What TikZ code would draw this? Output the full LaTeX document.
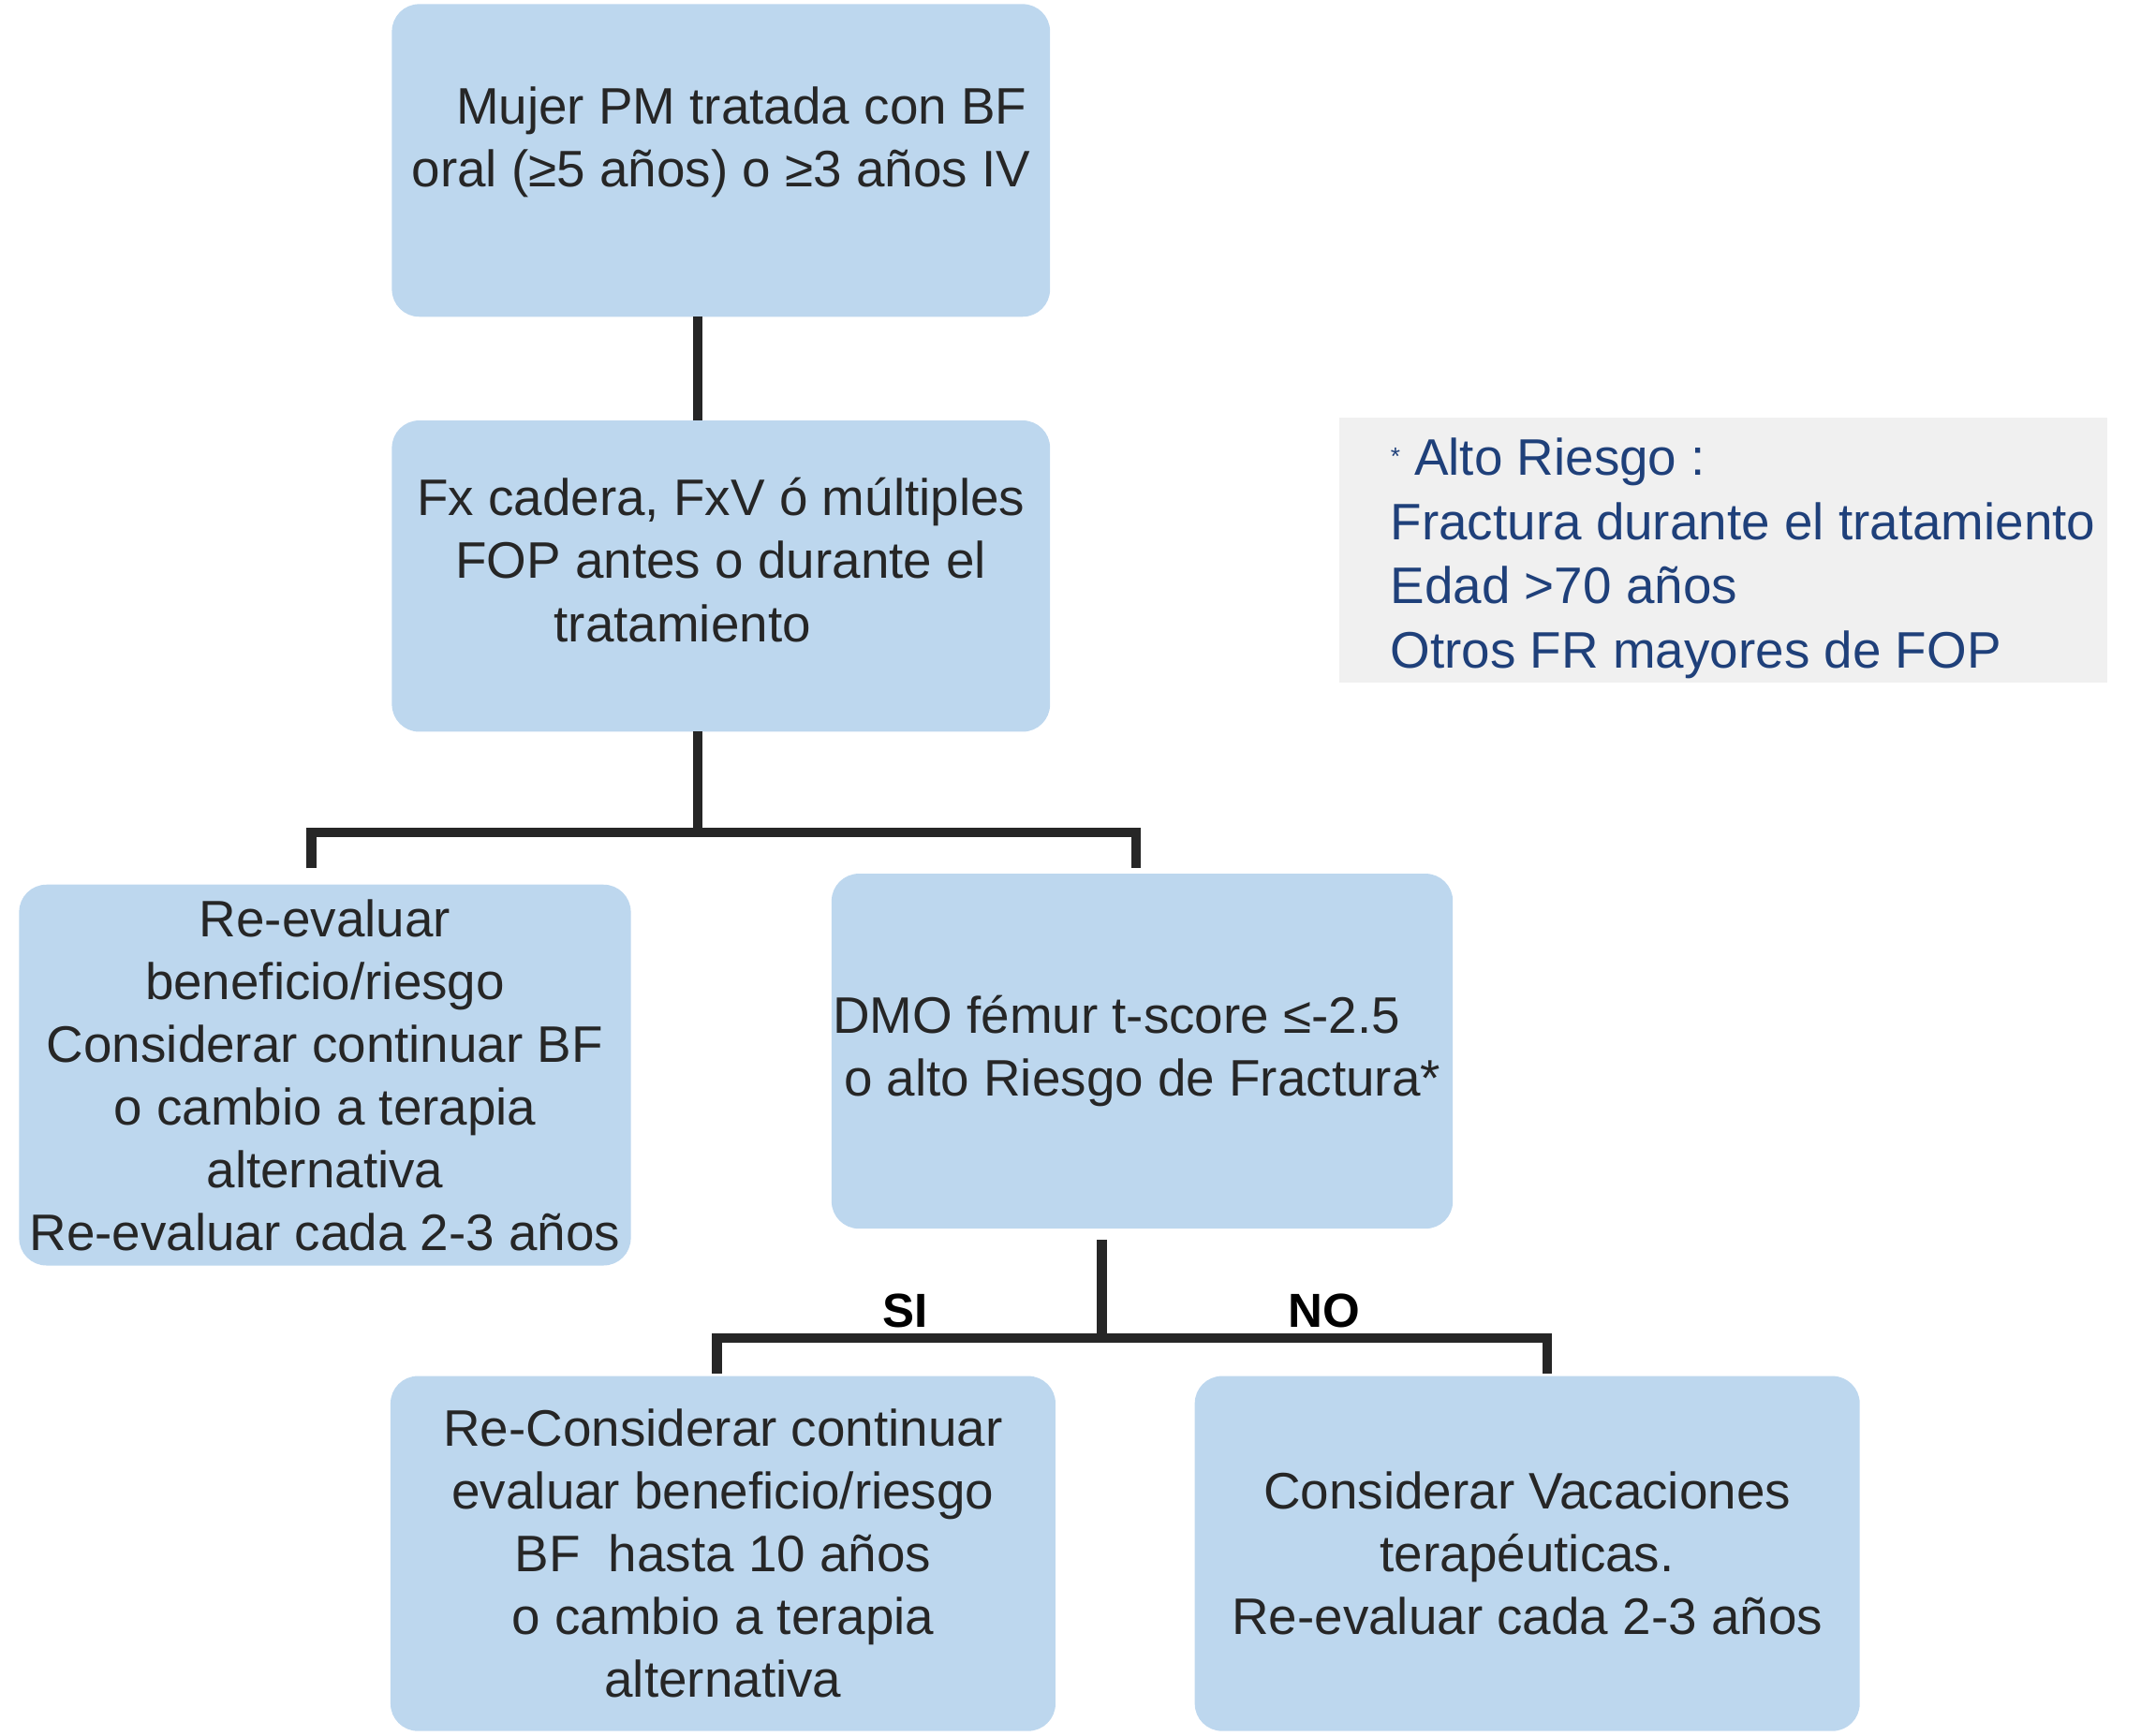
\documentclass[tikz,border=0pt]{standalone}
\usepackage{fontspec}
\setmainfont{Liberation Sans}
\definecolor{boxblue}{RGB}{189,215,238}
\definecolor{txtblue}{RGB}{31,64,122}
\begin{document}
\begin{tikzpicture}[x=0.5pt,y=-0.5pt,
  box/.style={draw=none,fill=boxblue,rounded corners=10pt,align=center,inner sep=0pt,
    font=\fontsize{18.8}{23}\selectfont,text=black!85},
  conn/.style={line width=3.5pt,black!85},
  lab/.style={font=\fontsize{17.5}{20}\selectfont\bfseries}]
\useasboundingbox (0,0) rectangle (1568,1271);
\node[box,minimum width=241pt,minimum height=114.5pt] (b1) at (528,117.5)
  {\hspace*{0.8em}Mujer PM tratada con BF\\oral (≥5 años) o ≥3 años IV\\[-6pt]};
\node[box,minimum width=241pt,minimum height=114pt] (b2) at (528,422)
  {Fx cadera, FxV ó múltiples\\FOP antes o durante el\\\hspace*{-1.5em}tratamiento\\[-11pt]};
\node[box,minimum width=224pt,minimum height=139.5pt] (b3) at (238,787.5)
  {Re-evaluar\\beneficio/riesgo\\Considerar continuar BF\\o cambio a terapia\\alternativa\\Re-evaluar cada 2-3 años};
\node[box,minimum width=227.5pt,minimum height=130pt] (b4) at (836.5,770)
  {DMO fémur t-score ≤-2.5\hspace*{1em}\\o alto Riesgo de Fractura*};
\node[box,minimum width=243.5pt,minimum height=130pt] (b5) at (529.5,1138)
  {Re-Considerar continuar\\evaluar beneficio/riesgo\\BF\ \ hasta 10 años\hspace*{1.2em}\\o cambio a terapia\\alternativa};
\node[box,minimum width=243.5pt,minimum height=130pt] (b6) at (1118.5,1138)
  {Considerar Vacaciones\\terapéuticas.\\Re-evaluar cada 2-3 años};
\node[fill=black!6,minimum width=281pt,minimum height=97pt,inner sep=0pt] (g) at (1262,403) {};
\node[anchor=west,align=left,inner sep=0pt,text=txtblue,font=\fontsize{18.8}{23.5}\selectfont] (gt) at (1018,409)
  {\raisebox{0.4ex}{\small*} Alto Riesgo :\\Fractura durante el tratamiento\\Edad >70 años\\Otros FR mayores de FOP};
\coordinate (j1) at (511,610);
\coordinate (l1) at (228,610); \coordinate (l1b) at (228,636);
\coordinate (r1) at (832,610); \coordinate (r1b) at (832,636);
\coordinate (t1) at (511,232); \coordinate (t2) at (511,308);
\coordinate (t3) at (511,536);
\coordinate (j2a) at (807,908); \coordinate (j2) at (807,980);
\coordinate (l2) at (525,980); \coordinate (l2b) at (525,1006);
\coordinate (r2) at (1133,980); \coordinate (r2b) at (1133,1006);
\draw[conn] (t1) -- (t2);
\draw[conn] (t3) -- (j1);
\draw[conn] (l1b) -- (l1) -- (r1) -- (r1b);
\draw[conn] (j2a) -- (j2);
\draw[conn] (l2b) -- (l2) -- (r2) -- (r2b);
\node[lab] (si) at (663,960) {SI};
\node[lab] (no) at (970,960) {NO};
\end{tikzpicture}
\end{document}
